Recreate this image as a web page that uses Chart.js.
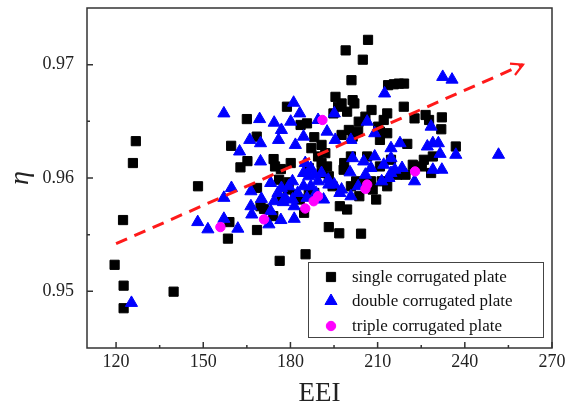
<!DOCTYPE html>
<html><head><meta charset="utf-8">
<script src="https://cdn.jsdelivr.net/npm/chart.js@4.4.0/dist/chart.umd.min.js"></script>
<style>html,body{margin:0;padding:0;background:#fff;}</style>
</head><body>
<canvas id="c" width="572" height="412"></canvas>
<script>
// ---- data ----
const xTickValues = [120, 150, 180, 210, 240, 270];
const yTickValues = [0.95, 0.96, 0.97];
const seriesLabels = ['single corrugated plate', 'double corrugated plate', 'triple corrugated plate'];

const singleX = [119.5,122.6,122.6,122.4,125.8,126.8,139.8,148.2,158.5,159.0,159.6,162.8,165.2,165.0,168.5,168.4,168.5,170.9,174.2,174.7,174.1,176.3,176.7,178.8,180.1,179.1,183.5,185.2,184.7,187.2,188.2,190.7,192.6,193.2,194.8,195.5,196.8,197.0,197.6,199.5,199.0,198.5,199.5,201.0,201.4,202.0,203.7,204.3,204.9,206.7,203.5,205.8,207.9,208.3,210.2,210.8,212.1,213.3,213.6,215.6,217.3,219.1,219.0,220.2,216.7,219.6,222.7,225.9,226.5,227.7,232.1,231.9,236.9,225.2,213.3,211.4,205.8,202.6,200.8,193.2,194.5,190.7,189.5,190.7,192.0,186.3,183.2,181.7,176.9,185.7,186.3,188.2,209.5,207.7,210.8,214.6,218.4,222.1,229.0,228.4,200.1,201.4,197.6,196.4,203.3,213.3,210.8,176.1,179.4,206.4,198.3,200.8,169.7];
const singleY = [0.95234,0.9505,0.94851,0.95629,0.96132,0.96325,0.94997,0.95927,0.95465,0.95611,0.96284,0.96094,0.96149,0.9652,0.95541,0.96365,0.95912,0.95728,0.96167,0.96102,0.95664,0.95269,0.96079,0.96629,0.96132,0.95898,0.96468,0.95327,0.95693,0.96263,0.9636,0.96292,0.96102,0.95567,0.9657,0.96716,0.95512,0.95751,0.9638,0.95722,0.97126,0.96132,0.96585,0.96863,0.96687,0.96658,0.95839,0.95509,0.97044,0.97219,0.96497,0.96541,0.966,0.95898,0.96453,0.96336,0.96512,0.9657,0.96819,0.96827,0.96833,0.96833,0.96629,0.96301,0.96029,0.96029,0.96526,0.96161,0.96556,0.96512,0.96535,0.9643,0.96278,0.96102,0.95927,0.95971,0.95956,0.95971,0.95927,0.96015,0.95927,0.96044,0.9619,0.96132,0.96219,0.96088,0.9581,0.95854,0.9581,0.96482,0.95854,0.95868,0.9581,0.95971,0.96102,0.96161,0.96044,0.96117,0.9619,0.96044,0.96424,0.96365,0.96658,0.96629,0.96409,0.96395,0.96409,0.95985,0.95962,0.9619,0.96073,0.9619,0.95751];

const doubleX = [125.3,148.1,151.6,157.1,157.1,157.1,159.7,161.9,162.5,166.0,166.4,166.4,166.7,169.4,169.7,169.7,170.0,172.6,173.2,173.2,174.4,175.9,176.7,176.9,178.2,180.1,181.1,181.3,181.7,181.3,183.2,184.5,184.5,185.1,186.3,188.8,189.5,190.7,191.4,192.6,193.0,195.1,195.1,195.4,197.0,197.6,200.8,200.5,201.4,205.2,205.8,206.4,209.0,209.0,212.1,212.4,211.4,214.6,214.6,214.6,217.7,218.4,222.7,227.1,228.4,229.0,229.0,230.9,231.5,232.4,235.6,236.9,251.6,232.1,176.9,179.4,180.7,182.5,185.7,187.0,188.2,189.5,184.5,193.2,187.0,175.7,174.4,203.3,200.8,207.7,215.9,180.7,177.6,213.9];
const doubleY = [0.94898,0.95611,0.95547,0.9657,0.95825,0.9564,0.95912,0.95553,0.96234,0.96336,0.95883,0.95751,0.95678,0.9652,0.96307,0.96146,0.95816,0.95591,0.95956,0.95708,0.96488,0.96336,0.95629,0.96424,0.95825,0.96497,0.96664,0.9564,0.96292,0.95751,0.9657,0.96365,0.95927,0.96132,0.96015,0.95868,0.96512,0.96044,0.9581,0.96409,0.95985,0.9657,0.95942,0.96336,0.95868,0.95898,0.96336,0.9605,0.96175,0.96146,0.96029,0.96497,0.96395,0.9619,0.96117,0.96746,0.95971,0.96263,0.96175,0.96044,0.96307,0.96088,0.95971,0.96278,0.96453,0.96307,0.96073,0.96307,0.96213,0.96892,0.96868,0.96205,0.96205,0.96073,0.95912,0.95927,0.95971,0.95868,0.95825,0.95927,0.96029,0.95971,0.96044,0.95942,0.96088,0.95868,0.95795,0.95927,0.95839,0.96088,0.96073,0.9581,0.95787,0.96];

const tripleX = [155.9,170.9,185.1,188.0,191.0,205.8,206.4,222.9,189.5];
const tripleY = [0.95567,0.95635,0.95731,0.95795,0.96512,0.95904,0.95942,0.96058,0.95839];

const trendX = [120, 260];
const trendY = [0.9542, 0.9700];

// ---- helpers ----
const toPts = (xs, ys) => xs.map((x, i) => ({x: x, y: ys[i]}));
const SERIF = "'Liberation Serif', 'Times New Roman', serif";

const frameAndTicks = {
  id: 'frameAndTicks',
  afterDatasetsDraw(chart) {
    const {ctx, chartArea: a, scales: {x, y}} = chart;
    ctx.save();
    ctx.strokeStyle = '#333';
    ctx.lineWidth = 1.5;
    ctx.strokeRect(a.left, a.top, a.right - a.left, a.bottom - a.top);
    ctx.beginPath();
    const xs = xTickValues;
    xs.forEach(v => { const p = x.getPixelForValue(v); ctx.moveTo(p, a.bottom); ctx.lineTo(p, a.bottom - 6); });
    for (let i = 0; i < xs.length - 1; i++) {
      const p = x.getPixelForValue((xs[i] + xs[i + 1]) / 2); ctx.moveTo(p, a.bottom); ctx.lineTo(p, a.bottom - 3);
    }
    yTickValues.forEach(v => { const p = y.getPixelForValue(v); ctx.moveTo(a.left, p); ctx.lineTo(a.left + 6, p); });
    for (let i = 0; i < yTickValues.length - 1; i++) {
      const p = y.getPixelForValue((yTickValues[i] + yTickValues[i + 1]) / 2); ctx.moveTo(a.left, p); ctx.lineTo(a.left + 3, p);
    }
    ctx.stroke();
    // arrow head on trend line
    const meta = chart.getDatasetMeta(3);
    const p0 = meta.data[0], p1 = meta.data[meta.data.length - 1];
    const ang = Math.atan2(p1.y - p0.y, p1.x - p0.x);
    ctx.strokeStyle = '#ff1a1a';
    ctx.lineWidth = 2.2;
    ctx.beginPath();
    const L = 13, spread = 0.5;
    ctx.moveTo(p1.x - L * Math.cos(ang - spread), p1.y - L * Math.sin(ang - spread));
    ctx.lineTo(p1.x, p1.y);
    ctx.lineTo(p1.x - L * Math.cos(ang + spread), p1.y - L * Math.sin(ang + spread));
    ctx.stroke();
    ctx.restore();
  },
  afterDraw(chart) {
    // legend box inside plot
    const {ctx} = chart;
    const bx = 308, by = 262, bw = 235, bh = 75;
    ctx.save();
    ctx.fillStyle = '#fff';
    ctx.fillRect(bx, by, bw, bh);
    ctx.strokeStyle = '#444';
    ctx.lineWidth = 1;
    ctx.strokeRect(bx + 0.5, by + 0.5, bw, bh);
    ctx.font = '17px ' + SERIF;
    ctx.textBaseline = 'middle';
    const rows = [277, 301, 326];
    for (let i = 0; i < 3; i++) {
      const ds = chart.data.datasets[i];
      ctx.fillStyle = ds.backgroundColor; ctx.strokeStyle = ds.borderColor; ctx.lineWidth = 1;
      Chart.helpers.drawPoint(ctx, {pointStyle: ds.pointStyle, radius: ds.pointRadius, borderWidth: 1, rotation: 0}, 331, rows[i]);
      ctx.fillStyle = '#111';
      ctx.fillText(ds.label, 352, rows[i] + 1);
    }
    ctx.restore();
  }
};

new Chart(document.getElementById('c'), {
  type: 'scatter',
  data: {
    datasets: [
      {label: seriesLabels[0], data: toPts(singleX, singleY), pointStyle: 'rect', pointRadius: 6.5, pointHoverRadius: 6.5,
       backgroundColor: '#000', borderColor: '#000', borderWidth: 1, order: 3},
      {label: seriesLabels[1], data: toPts(doubleX, doubleY), pointStyle: 'triangle', pointRadius: 7, pointHoverRadius: 7,
       backgroundColor: '#0000ff', borderColor: '#0000ff', borderWidth: 1, order: 2},
      {label: seriesLabels[2], data: toPts(tripleX, tripleY), pointStyle: 'circle', pointRadius: 4.7, pointHoverRadius: 4.7,
       backgroundColor: '#ff00ff', borderColor: '#ff00ff', borderWidth: 1, order: 1},
      {type: 'line', label: 'trend', data: toPts(trendX, trendY), showLine: true, borderColor: '#ff1a1a', borderWidth: 3,
       borderDash: [12, 8], pointRadius: 0, fill: false, order: 0}
    ]
  },
  options: {
    responsive: false,
    animation: false,
    devicePixelRatio: 1,
    layout: {padding: {left: 0, right: 20, top: 7, bottom: 0}},
    plugins: {legend: {display: false}, tooltip: {enabled: false}},
    scales: {
      x: {
        type: 'linear', min: 110, max: 270,
        afterBuildTicks: s => { s.ticks = xTickValues.map(v => ({value: v})); },
        afterFit: s => { s.height = 64; s.paddingLeft = 0; s.paddingRight = 0; },
        grid: {display: false, drawTicks: false},
        border: {display: false},
        ticks: {padding: 3, color: '#222', font: {family: SERIF, size: 18}, callback: v => String(v), maxRotation: 0},
        title: {display: true, text: 'EEI', color: '#222', font: {family: SERIF, size: 27}, padding: {top: 0, bottom: 2}}
      },
      y: {
        type: 'linear', min: 0.945, max: 0.975,
        afterBuildTicks: s => { s.ticks = yTickValues.map(v => ({value: v})); },
        afterFit: s => { s.width = 87; s.paddingTop = 0; s.paddingBottom = 0; },
        grid: {display: false, drawTicks: false},
        border: {display: false},
        ticks: {padding: 13, color: '#222', font: {family: SERIF, size: 18}, callback: v => v.toFixed(2)},
        title: {display: true, text: 'η', color: '#222', font: {family: SERIF, size: 28, style: 'italic'}, padding: {top: 4, bottom: 0}}
      }
    }
  },
  plugins: [frameAndTicks]
});
</script>
</body></html>
